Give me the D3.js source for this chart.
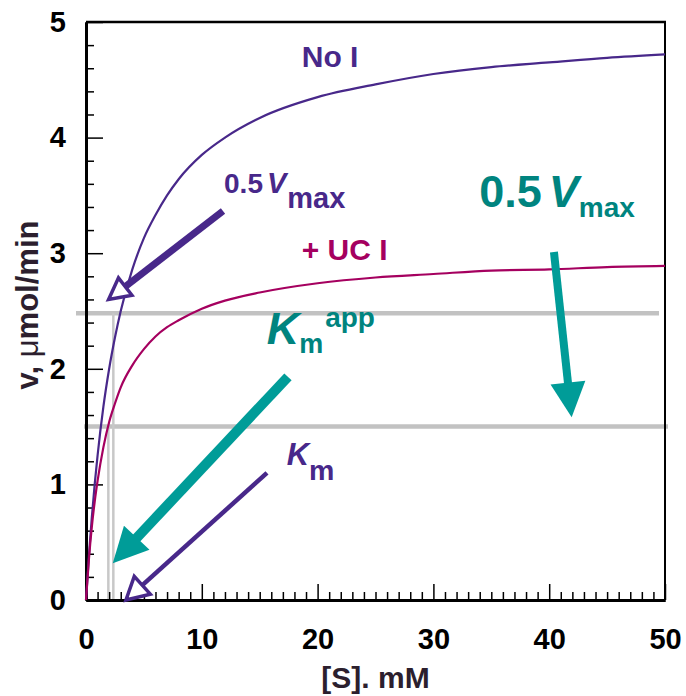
<!DOCTYPE html>
<html>
<head>
<meta charset="utf-8">
<script src="https://cdn.jsdelivr.net/npm/d3@7/dist/d3.min.js"></script>
<style>
  html, body { margin: 0; padding: 0; background: #fff; }
  svg { display: block; font-family: "Liberation Sans", Arial, sans-serif; font-weight: bold; }
</style>
</head>
<body>
<svg id="chart" width="686" height="696"></svg>
<script>
// Substrate concentration [S] (mM)
const substrate = [0, 0.25, 0.5, 0.75, 1, 1.5, 2, 2.5, 3, 4, 5, 6, 7, 8, 10, 12, 15, 20, 25, 30, 35, 40, 45, 50];
// Initial velocity without inhibitor (µmol/min)
const rateNoInhibitor = [0, 0.38, 0.71, 1.00, 1.25, 1.67, 2.00, 2.27, 2.50, 2.86, 3.13, 3.33, 3.50, 3.64, 3.85, 4.00, 4.17, 4.35, 4.46, 4.55, 4.61, 4.65, 4.69, 4.72];
// Initial velocity with an uncompetitive inhibitor (µmol/min)
const rateUncompetitive = [0, 0.35, 0.63, 0.85, 1.03, 1.32, 1.54, 1.70, 1.84, 2.03, 2.17, 2.28, 2.36, 2.42, 2.52, 2.59, 2.66, 2.74, 2.79, 2.82, 2.85, 2.86, 2.88, 2.89];

// Half-maximal velocities (horizontal guides) and the matching Km values (vertical guides)
const halfVmax = [2.48, 1.5];
const kmValues = [2.36, 1.93];

const xTicks = [0, 10, 20, 30, 40, 50];
const yTicks = [0, 1, 2, 3, 4, 5];

const purple = "#48288a";
const magenta = "#a5005f";
const tealText = "#00847f";
const tealArrow = "#009c98";
const grey = "#c2c2c2";

const margin = { top: 22, right: 21, bottom: 96, left: 86 };
const width = 686, height = 696;
const svg = d3.select("#chart");

const x = d3.scaleLinear().domain([0, 50]).range([margin.left, width - margin.right]);
const y = d3.scaleLinear().domain([0, 5]).range([height - margin.bottom, margin.top]);

// Guide lines at half-maximal velocity
svg.append("line")
  .attr("x1", x(0) - 10).attr("x2", x(50) - 6)
  .attr("y1", y(halfVmax[0])).attr("y2", y(halfVmax[0]))
  .attr("stroke", grey).attr("stroke-width", 4.5);
svg.append("line")
  .attr("x1", x(0) - 2).attr("x2", x(50) + 3)
  .attr("y1", y(halfVmax[1])).attr("y2", y(halfVmax[1]))
  .attr("stroke", grey).attr("stroke-width", 4.5);

// Vertical drops to the Km values
kmValues.forEach((k, i) => {
  svg.append("line")
    .attr("x1", x(k)).attr("x2", x(k))
    .attr("y1", y(halfVmax[i])).attr("y2", y(0))
    .attr("stroke", "#c8c8c8").attr("stroke-width", 2.5);
});

// Axes with inward ticks
const xMinor = d3.range(0, 51, 1).filter(v => v % 10 !== 0);
const yMinor = d3.range(0, 5.01, 0.2).map(v => +v.toFixed(1)).filter(v => Math.abs(v - Math.round(v)) > 1e-6);

const gx = svg.append("g").attr("transform", `translate(0,${y(0)})`);
gx.call(d3.axisBottom(x).tickValues(xMinor).tickSize(-8).tickSizeOuter(0).tickFormat(""));
const gxMajor = svg.append("g").attr("transform", `translate(0,${y(0)})`)
  .call(d3.axisBottom(x).tickValues(xTicks).tickSize(-16).tickSizeOuter(0).tickPadding(28).tickFormat(d3.format("d")));

const gy = svg.append("g").attr("transform", `translate(${x(0)},0)`);
gy.call(d3.axisLeft(y).tickValues(yMinor).tickSize(-8).tickSizeOuter(0).tickFormat(""));
const gyMajor = svg.append("g").attr("transform", `translate(${x(0)},0)`)
  .call(d3.axisLeft(y).tickValues(yTicks).tickSize(-17).tickSizeOuter(0).tickPadding(20).tickFormat(d3.format("d")));

[gx, gy, gxMajor, gyMajor].forEach(g => {
  g.selectAll(".tick line").attr("stroke", "#000").attr("stroke-width", 1.5);
  g.select(".domain").attr("stroke", "#000").attr("stroke-width", 3);
});
[gxMajor, gyMajor].forEach(g => {
  g.selectAll(".tick text")
    .attr("fill", "#000")
    .style("font-size", "29px")
    .style("font-weight", "bold")
    .style("font-family", "'Liberation Sans', Arial, sans-serif");
});

// Frame on top and right
svg.append("line").attr("x1", x(0)).attr("x2", x(50) + 1).attr("y1", y(5)).attr("y2", y(5))
  .attr("stroke", "#000").attr("stroke-width", 2.5);
svg.append("line").attr("x1", x(50)).attr("x2", x(50)).attr("y1", y(5)).attr("y2", y(0))
  .attr("stroke", "#000").attr("stroke-width", 2);

// Rate curves
const line = d3.line().x(d => x(d[0])).y(d => y(d[1])).curve(d3.curveMonotoneX);
svg.append("path").datum(d3.zip(substrate, rateNoInhibitor))
  .attr("d", line).attr("fill", "none").attr("stroke", purple).attr("stroke-width", 2.2);
svg.append("path").datum(d3.zip(substrate, rateUncompetitive))
  .attr("d", line).attr("fill", "none").attr("stroke", magenta).attr("stroke-width", 2.2);

// Arrows: shaft plus triangular head; open heads have a white fill
function arrow(tail, tip, opts) {
  const x0 = x(tail[0]), y0 = y(tail[1]), x1 = x(tip[0]), y1 = y(tip[1]);
  const dx = x1 - x0, dy = y1 - y0, len = Math.hypot(dx, dy);
  const ux = dx / len, uy = dy / len;
  const bx = x1 - ux * opts.headLen, by = y1 - uy * opts.headLen;
  const px = -uy * opts.headHalf, py = ux * opts.headHalf;
  svg.append("line")
    .attr("x1", x0).attr("y1", y0).attr("x2", bx + ux * 1).attr("y2", by + uy * 1)
    .attr("stroke", opts.color).attr("stroke-width", opts.shaft);
  svg.append("polygon")
    .attr("points", [[x1, y1], [bx + px, by + py], [bx - px, by - py]].map(p => p.join(",")).join(" "))
    .attr("fill", opts.open ? "#fff" : opts.color)
    .attr("stroke", opts.open ? opts.color : "none")
    .attr("stroke-width", opts.open ? 3.5 : 0)
    .attr("stroke-linejoin", "miter");
}

arrow([11.83, 3.365], [1.95, 2.60], { color: purple, shaft: 7, headLen: 21, headHalf: 11, open: true });
arrow([15.63, 1.10], [3.45, 0.0], { color: purple, shaft: 4.5, headLen: 22, headHalf: 12, open: true });
arrow([17.44, 1.93], [2.31, 0.317], { color: tealArrow, shaft: 10, headLen: 35, headHalf: 17.5, open: false });
arrow([40.41, 3.01], [41.94, 1.58], { color: tealArrow, shaft: 8, headLen: 35, headHalf: 17.5, open: false });

// Text annotations
function label(s, v, color, parts) {
  const t = svg.append("text").attr("x", x(s)).attr("y", y(v)).attr("fill", color);
  parts.forEach(p => {
    const ts = t.append("tspan").text(p.text).style("font-size", p.size + "px");
    if (p.italic) ts.style("font-style", "italic");
    if (p.dx) ts.attr("dx", p.dx);
    if (p.dy) ts.attr("dy", p.dy);
  });
  return t;
}

label(18.63, 4.613, purple, [{ text: "No I", size: 30 }]);
label(18.63, 2.941, magenta, [{ text: "+ UC I", size: 30 }]);
label(11.92, 3.518, purple, [
  { text: "0.5", size: 28 },
  { text: "V", size: 29, italic: true, dx: 4 },
  { text: "max", size: 29, dx: 1, dy: 15 }
]);
label(33.96, 3.397, tealText, [
  { text: "0.5", size: 45 },
  { text: "V", size: 45, italic: true, dx: 7 },
  { text: "max", size: 28, dx: 0, dy: 9.4 }
]);
label(15.6, 2.215, tealText, [
  { text: "K", size: 45, italic: true },
  { text: "m", size: 27, dx: 0, dy: 9.3 },
  { text: "app", size: 28, dx: 2, dy: -26.6 }
]);
label(17.33, 1.168, purple, [
  { text: "K", size: 31, italic: true },
  { text: "m", size: 28.5, dx: 0, dy: 15 }
]);

// Axis titles
const yTitle = svg.append("text")
  .attr("transform", `translate(38,${(y(0) + y(5)) / 2 - 6}) rotate(-90)`)
  .attr("text-anchor", "middle").attr("fill", "#2c1f2e").style("font-size", "31px");
yTitle.append("tspan").text("v, ");
yTitle.append("tspan").text("μ").style("font-weight", "normal");
yTitle.append("tspan").text("mol/min");

svg.append("text")
  .attr("x", (x(0) + x(50)) / 2).attr("y", 688)
  .attr("text-anchor", "middle").attr("fill", "#2c1f2e").style("font-size", "30px")
  .text("[S]. mM");
</script>
</body>
</html>
